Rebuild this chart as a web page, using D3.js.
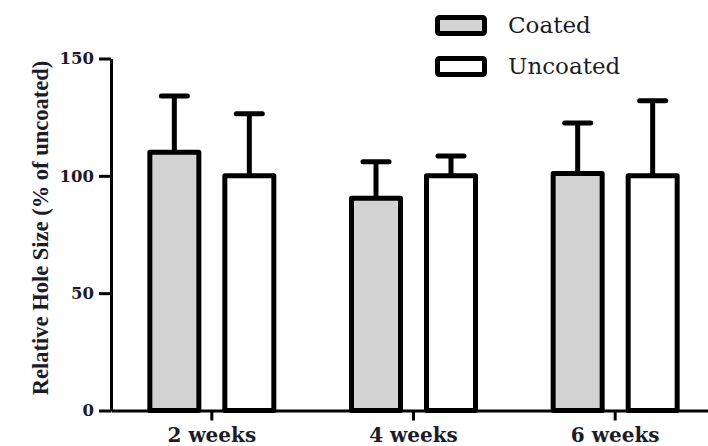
<!DOCTYPE html>
<html>
<head>
<meta charset="utf-8">
<script src="https://cdn.jsdelivr.net/npm/d3@7/dist/d3.min.js"></script>
<style>
  html, body { margin: 0; padding: 0; background: #fff; }
  svg { display: block; }
</style>
</head>
<body>
<svg id="chart" width="708" height="446"></svg>
<script>
// Hole size relative to uncoated, mean + SD per time point
const categories = ["2 weeks", "4 weeks", "6 weeks"];
const seriesNames = ["Coated", "Uncoated"];
const coatedMean = [110, 90.5, 101];
const coatedSD = [24, 15.5, 21.5];
const uncoatedMean = [100, 100, 100];
const uncoatedSD = [26.5, 8.5, 32];
const yTicks = [0, 50, 100, 150];
const yTitle = "Relative Hole Size (% of uncoated)";

const seriesFill = { "Coated": "#d3d3d3", "Uncoated": "#ffffff" };
const seriesData = {
  "Coated": { mean: coatedMean, sd: coatedSD },
  "Uncoated": { mean: uncoatedMean, sd: uncoatedSD }
};

const svg = d3.select("#chart");
const ink = "#000";
const textInk = "#1b1b2a";

const y = d3.scaleLinear().domain([0, 150]).range([410.5, 58.5]);
const x = d3.scaleBand().domain(categories).range([111, 716]).padding(0);
const xs = d3.scalePoint().domain(seriesNames).range([-37.5, 37.5]);
const barW = 49;

const rows = [];
categories.forEach((c, i) => {
  seriesNames.forEach(s => {
    rows.push({ cat: c, series: s, mean: seriesData[s].mean[i], sd: seriesData[s].sd[i] });
  });
});
const cx = d => x(d.cat) + x.bandwidth() / 2 + xs(d.series);

// error bars (upper only), drawn beneath the bars
const err = svg.append("g").attr("stroke", ink).attr("stroke-width", 5);
err.selectAll("line.v").data(rows).join("line")
  .attr("class", "v")
  .attr("x1", cx).attr("x2", cx)
  .attr("y1", d => y(d.mean)).attr("y2", d => y(d.mean + d.sd));
err.selectAll("line.cap").data(rows).join("line")
  .attr("class", "cap")
  .attr("stroke-linecap", "round")
  .attr("x1", d => cx(d) - 13).attr("x2", d => cx(d) + 13)
  .attr("y1", d => y(d.mean + d.sd)).attr("y2", d => y(d.mean + d.sd));

// bars
svg.append("g").selectAll("rect").data(rows).join("rect")
  .attr("x", d => cx(d) - barW / 2)
  .attr("width", barW)
  .attr("y", d => y(d.mean))
  .attr("height", d => y(0) - y(d.mean))
  .attr("fill", d => seriesFill[d.series])
  .attr("stroke", ink)
  .attr("stroke-width", 5)
  .attr("stroke-linejoin", "round");

// y axis
const yAxis = svg.append("g")
  .attr("transform", "translate(111,0)")
  .call(d3.axisLeft(y).tickValues(yTicks).tickSize(12).tickSizeOuter(0).tickPadding(5));
yAxis.select(".domain").attr("stroke", ink).attr("stroke-width", 3);
yAxis.selectAll(".tick line").attr("stroke", ink).attr("stroke-width", 3);
yAxis.selectAll(".tick text")
  .attr("fill", textInk)
  .style("font-family", "'DejaVu Serif', serif")
  .style("font-weight", "bold")
  .style("font-size", "16.5px");

// x axis
const xAxis = svg.append("g")
  .attr("transform", `translate(0,${y(0)})`)
  .call(d3.axisBottom(x).tickSize(10).tickSizeOuter(0).tickPadding(7));
xAxis.select(".domain").attr("stroke", ink).attr("stroke-width", 3);
xAxis.selectAll(".tick line").attr("stroke", ink).attr("stroke-width", 3);
xAxis.selectAll(".tick text")
  .attr("fill", textInk)
  .style("font-family", "'DejaVu Serif', serif")
  .style("font-weight", "bold")
  .style("font-size", "20px");

// y axis title
svg.append("text")
  .attr("transform", "translate(48,228) rotate(-90)")
  .attr("text-anchor", "middle")
  .attr("fill", textInk)
  .style("font-family", "'Liberation Serif', serif")
  .style("font-weight", "bold")
  .style("font-size", "22.5px")
  .text(yTitle);

// legend
const legend = svg.append("g").attr("transform", "translate(437.5,17.5)");
const item = legend.selectAll("g").data(seriesNames).join("g")
  .attr("transform", (d, i) => `translate(0,${i * 41})`);
item.append("rect")
  .attr("width", 47).attr("height", 16).attr("rx", 2)
  .attr("fill", d => seriesFill[d])
  .attr("stroke", ink).attr("stroke-width", 5);
item.append("text")
  .attr("x", 70.5).attr("y", 15.5)
  .attr("fill", textInk)
  .style("font-family", "'DejaVu Serif', serif")
  .style("font-size", "23px")
  .text(d => d);
</script>
</body>
</html>
